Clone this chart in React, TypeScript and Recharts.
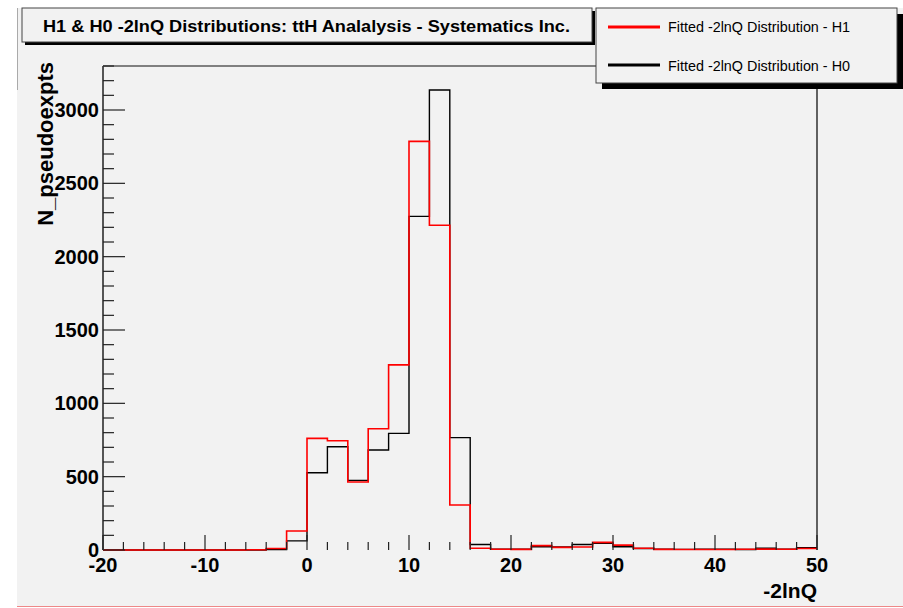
import React from "react"
import { ComposedChart, Line, XAxis, YAxis, ReferenceLine } from "recharts"

// -2lnQ histograms, 2-unit bins starting at the listed low edge
const binLow = [
  -20, -18, -16, -14, -12, -10, -8, -6, -4, -2, 0, 2, 4, 6, 8, 10, 12, 14, 16, 18,
  20, 22, 24, 26, 28, 30, 32, 34, 36, 38, 40, 42, 44, 46, 48,
]
const h1Counts = [
  0, 0, 0, 0, 0, 0, 0, 2, 10, 130, 761, 745, 464, 827, 1262, 2786, 2214, 307, 12, 5,
  4, 30, 18, 20, 52, 33, 12, 4, 3, 3, 3, 5, 6, 5, 10,
]
const h0Counts = [
  0, 0, 0, 0, 0, 0, 0, 0, 3, 62, 527, 704, 475, 682, 795, 2275, 3136, 766, 38, 6,
  5, 22, 20, 38, 45, 22, 10, 5, 4, 6, 5, 3, 12, 5, 15,
]
const xUpperEdge = 50

const xTickLabels = [-20, -10, 0, 10, 20, 30, 40, 50]
const yTickLabels = [0, 500, 1000, 1500, 2000, 2500, 3000]
const yMax = 3300

const legendItems = [
  { name: "Fitted -2lnQ Distribution - H1", color: "#ff0000" },
  { name: "Fitted -2lnQ Distribution - H0", color: "#000000" },
]

// step-after rows, with the closing edge repeating the last bin
const rows = binLow.map((x, i) => ({ x, h1: h1Counts[i], h0: h0Counts[i] }))
rows.push({ x: xUpperEdge, h1: h1Counts[h1Counts.length - 1], h0: h0Counts[h0Counts.length - 1] })

const xMinor: number[] = []
for (let v = -20; v <= 50; v += 2) xMinor.push(v)
const yMinor: number[] = []
for (let v = 0; v <= yMax; v += 100) yMinor.push(v)

const PLOT_LEFT = 103
const PLOT_BOTTOM = 550
const FONT = "'Liberation Sans', Arial, sans-serif"

function XTick(props: any) {
  const { x, payload } = props
  const major = xTickLabels.includes(payload.value)
  return (
    <g>
      <line x1={x} x2={x} y1={PLOT_BOTTOM} y2={PLOT_BOTTOM - (major ? 15 : 8)} stroke="#222" strokeWidth={1.2} />
      {major && (
        <text x={x} y={572} textAnchor="middle" fontFamily={FONT} fontWeight="bold" fontSize={20} fill="#000">
          {payload.value}
        </text>
      )}
    </g>
  )
}

function YTick(props: any) {
  const { y, payload } = props
  const major = yTickLabels.includes(payload.value)
  return (
    <g>
      <line x1={PLOT_LEFT} x2={PLOT_LEFT + (major ? 22 : 11)} y1={y} y2={y} stroke="#222" strokeWidth={1.2} />
      {major && (
        <text x={99} y={y + 7} textAnchor="end" fontFamily={FONT} fontWeight="bold" fontSize={20} fill="#000">
          {payload.value}
        </text>
      )}
    </g>
  )
}

export default function App() {
  return (
    <div style={{ position: "absolute", left: 0, top: 0, width: 903, height: 608, background: "#fff", overflow: "hidden" }}>
      {/* pad background */}
      <div
        style={{
          position: "absolute",
          left: 17,
          top: 8,
          width: 886,
          height: 598,
          background: "#f2f2f2",
          borderBottom: "1px solid #ee8888",
        }}
      />
      <div style={{ position: "absolute", left: 17, top: 8, width: 1, height: 82, background: "#aaa" }} />

      <div style={{ position: "absolute", left: 0, top: 0 }}>
        <ComposedChart width={903} height={608} data={rows} margin={{ top: 66, right: 86, bottom: 0, left: 0 }}>
          <XAxis
            dataKey="x"
            type="number"
            domain={[-20, 50]}
            ticks={xMinor}
            interval={0}
            height={58}
            tickLine={false}
            axisLine={false}
            tick={<XTick />}
          />
          <YAxis
            type="number"
            domain={[0, yMax]}
            ticks={yMinor}
            interval={0}
            width={103}
            tickLine={false}
            axisLine={{ stroke: "#555", strokeWidth: 2 }}
            tick={<YTick />}
          />
          <ReferenceLine y={yMax} stroke="#808080" strokeWidth={2} ifOverflow="extendDomain" />
          <ReferenceLine x={xUpperEdge} stroke="#000" strokeWidth={1.2} />
          <Line
            dataKey="h0"
            type="stepAfter"
            stroke="#000"
            strokeWidth={1.4}
            dot={false}
            activeDot={false}
            isAnimationActive={false}
          />
          <Line
            dataKey="h1"
            type="stepAfter"
            stroke="#ff0000"
            strokeWidth={1.6}
            dot={false}
            activeDot={false}
            isAnimationActive={false}
          />
        </ComposedChart>
      </div>

      {/* title, legend and axis titles */}
      <svg width={903} height={608} style={{ position: "absolute", left: 0, top: 0, pointerEvents: "none" }}>
        <text
          transform="translate(53,62) rotate(-90)"
          textAnchor="end"
          fontFamily={FONT}
          fontWeight="bold"
          fontSize={22}
          fill="#000"
        >
          N_pseudoexpts
        </text>
        <text x={817} y={598} textAnchor="end" fontFamily={FONT} fontWeight="bold" fontSize={21} fill="#000">
          -2lnQ
        </text>

        <rect x={25} y={11} width={570} height={34} fill="#000" />
        <rect x={22} y={8} width={570} height={34} fill="#f2f2f2" stroke="#444" strokeWidth={1} />
        <text
          x={43}
          y={32}
          fontFamily={FONT}
          fontWeight="bold"
          fontSize={17}
          textLength={527}
          lengthAdjust="spacingAndGlyphs"
          fill="#000"
        >
          H1 &amp; H0 -2lnQ Distributions: ttH Analalysis - Systematics Inc.
        </text>

        <rect x={602} y={14} width={301} height={75} fill="#000" />
        <rect x={596} y={8} width={301} height={75} fill="#f2f2f2" stroke="#444" strokeWidth={1} />
        {legendItems.map((item, i) => (
          <g key={item.name}>
            <line x1={608} x2={660} y1={27 + i * 38} y2={27 + i * 38} stroke={item.color} strokeWidth={3} />
            <text
              x={668}
              y={32 + i * 38.5}
              fontFamily={FONT}
              fontSize={14}
              textLength={182}
              lengthAdjust="spacingAndGlyphs"
              fill="#000"
            >
              {item.name}
            </text>
          </g>
        ))}
      </svg>
    </div>
  )
}
